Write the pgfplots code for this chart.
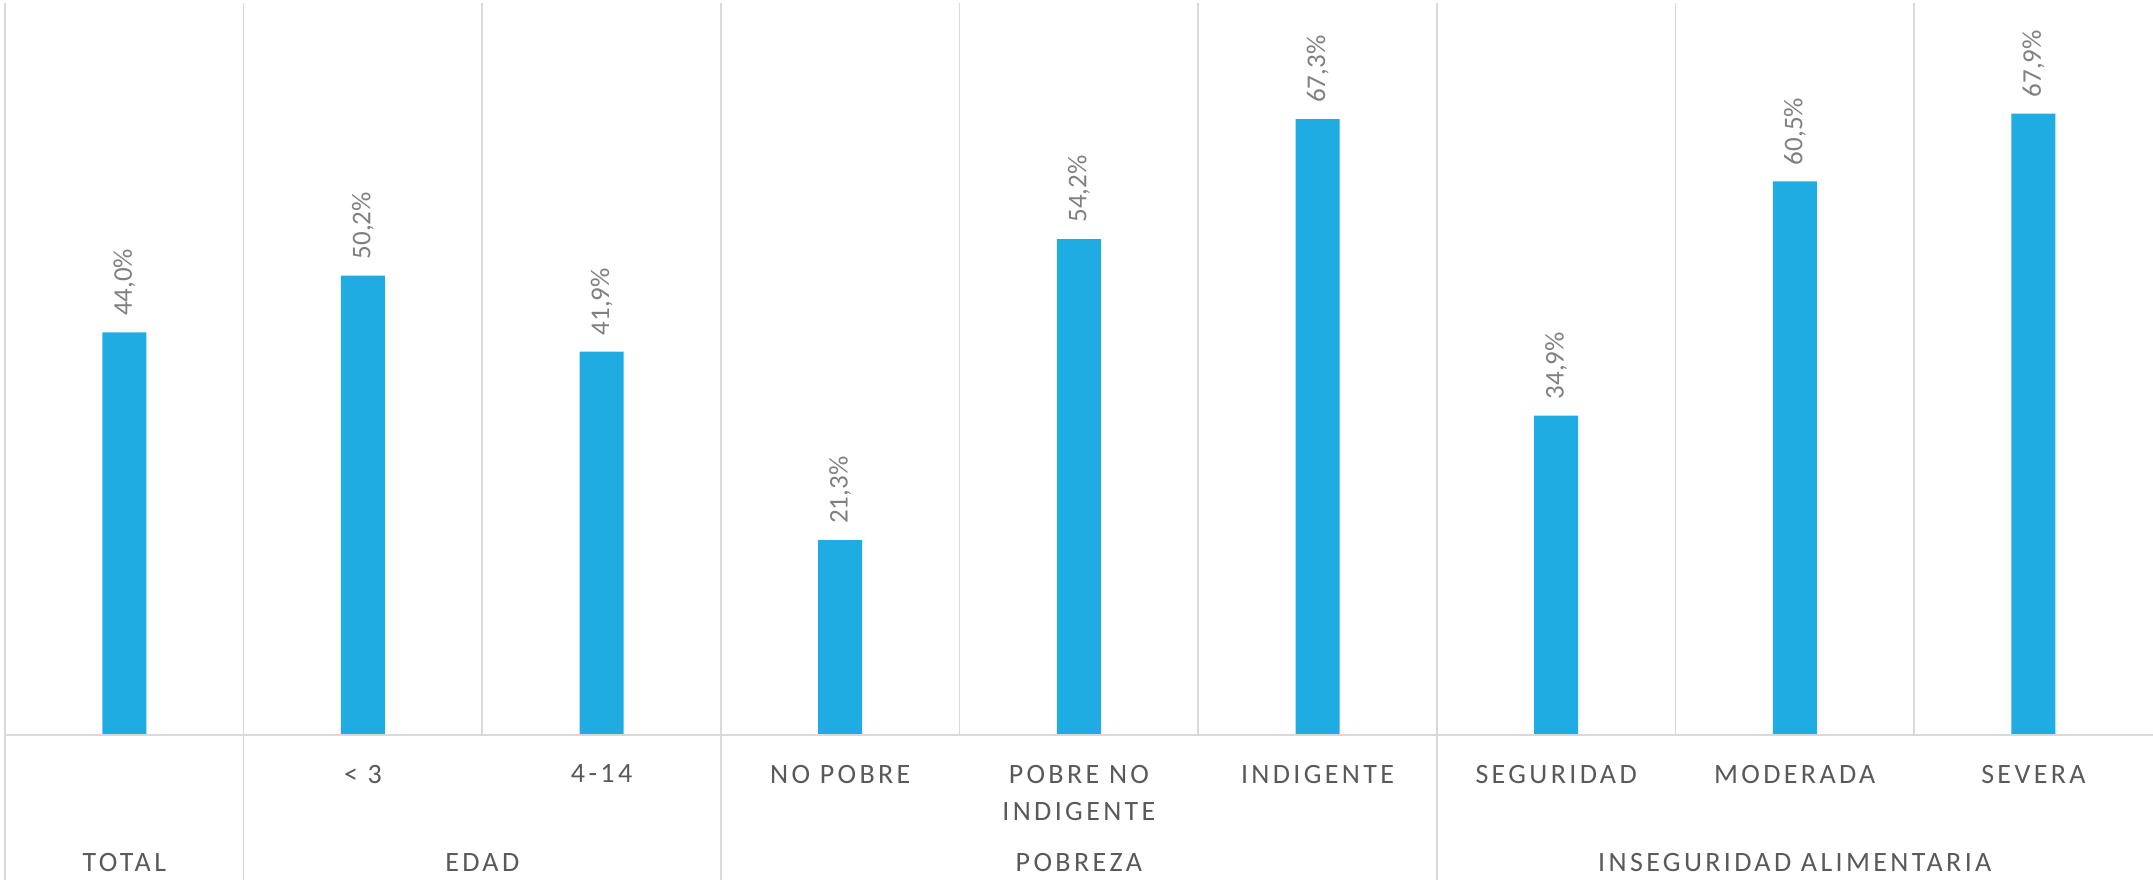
\documentclass[border=0pt]{standalone}
\usepackage{fontspec}
\setmainfont{Carlito}
\newfontfamily\spaced{Carlito}[LetterSpace=12]
\usepackage{pgfplots}
\pgfplotsset{compat=1.18}
\definecolor{barblue}{HTML}{1EACE3}
\definecolor{gridgray}{HTML}{D9D9D9}
\definecolor{labgray}{HTML}{595959}
\definecolor{valgray}{HTML}{808080}

\begin{document}
\begin{tikzpicture}
\useasboundingbox (0,0) rectangle (1076.5bp,440bp);
\begin{axis}[at={(2.5bp,72.5bp)}, anchor=south west, scale only axis,
  width=1074bp, height=366bp,
  xmin=-0.5, xmax=8.5, ymin=0, ymax=80,
  axis line style={draw=none}, tick style={draw=none},
  ytick=\empty, clip=false,
  ybar, bar width=22bp, bar shift=0pt,
  xtick={0,...,8},
  xticklabels={{}, {< 3}, {4-14}, {NO POBRE}, {POBRE NO\\INDIGENTE}, {INDIGENTE}, {SEGURIDAD}, {MODERADA}, {SEVERA}},
  xticklabel style={font=\spaced\fontsize{14bp}{18.5bp}\selectfont, text=labgray,
    anchor=north, align=center, inner sep=0pt, yshift=-10.5bp},
  nodes near coords={\pgfmathprintnumber[fixed,fixed zerofill,precision=1,use comma,assume math mode=true]{\pgfplotspointmeta}\%},
  nodes near coords style={rotate=90, anchor=west, text=valgray,
    font=\fontsize{13.5bp}{16bp}\selectfont, inner xsep=8bp, inner ysep=0pt},
]
  \draw[gridgray, line width=0.8bp] (axis cs:-0.5,0) -- (axis cs:-0.5,80);
  \draw[gridgray, line width=0.8bp] (axis cs:0.5,0) -- (axis cs:0.5,80);
  \draw[gridgray, line width=0.8bp] (axis cs:1.5,0) -- (axis cs:1.5,80);
  \draw[gridgray, line width=0.8bp] (axis cs:2.5,0) -- (axis cs:2.5,80);
  \draw[gridgray, line width=0.8bp] (axis cs:3.5,0) -- (axis cs:3.5,80);
  \draw[gridgray, line width=0.8bp] (axis cs:4.5,0) -- (axis cs:4.5,80);
  \draw[gridgray, line width=0.8bp] (axis cs:5.5,0) -- (axis cs:5.5,80);
  \draw[gridgray, line width=0.8bp] (axis cs:6.5,0) -- (axis cs:6.5,80);
  \draw[gridgray, line width=0.8bp] (axis cs:7.5,0) -- (axis cs:7.5,80);
  % group separators below the baseline
  \draw[gridgray, line width=0.8bp] (axis cs:-0.5,0) -- ([yshift=-72.5bp]axis cs:-0.5,0);
  \draw[gridgray, line width=0.8bp] (axis cs:0.5,0) -- ([yshift=-72.5bp]axis cs:0.5,0);
  \draw[gridgray, line width=0.8bp] (axis cs:2.5,0) -- ([yshift=-72.5bp]axis cs:2.5,0);
  \draw[gridgray, line width=0.8bp] (axis cs:5.5,0) -- ([yshift=-72.5bp]axis cs:5.5,0);
  \addplot[fill=barblue, draw=none] coordinates {
    (0,44.0) (1,50.2) (2,41.9) (3,21.3) (4,54.2) (5,67.3) (6,34.9) (7,60.5) (8,67.9)};
  \draw[gridgray, line width=1.2bp] (axis cs:-0.5,0) -- (axis cs:8.5,0);
  \begin{scope}[every node/.style={text=labgray, font=\spaced\fontsize{14bp}{18.5bp}\selectfont, anchor=base, inner sep=0pt}]
    \node at ([yshift=-68bp]axis cs:0,0) {TOTAL};
    \node at ([yshift=-68bp]axis cs:1.5,0) {EDAD};
    \node at ([yshift=-68bp]axis cs:4,0) {POBREZA};
    \node at ([yshift=-68bp]axis cs:7,0) {INSEGURIDAD ALIMENTARIA};
  \end{scope}
\end{axis}
\end{tikzpicture}
\end{document}
